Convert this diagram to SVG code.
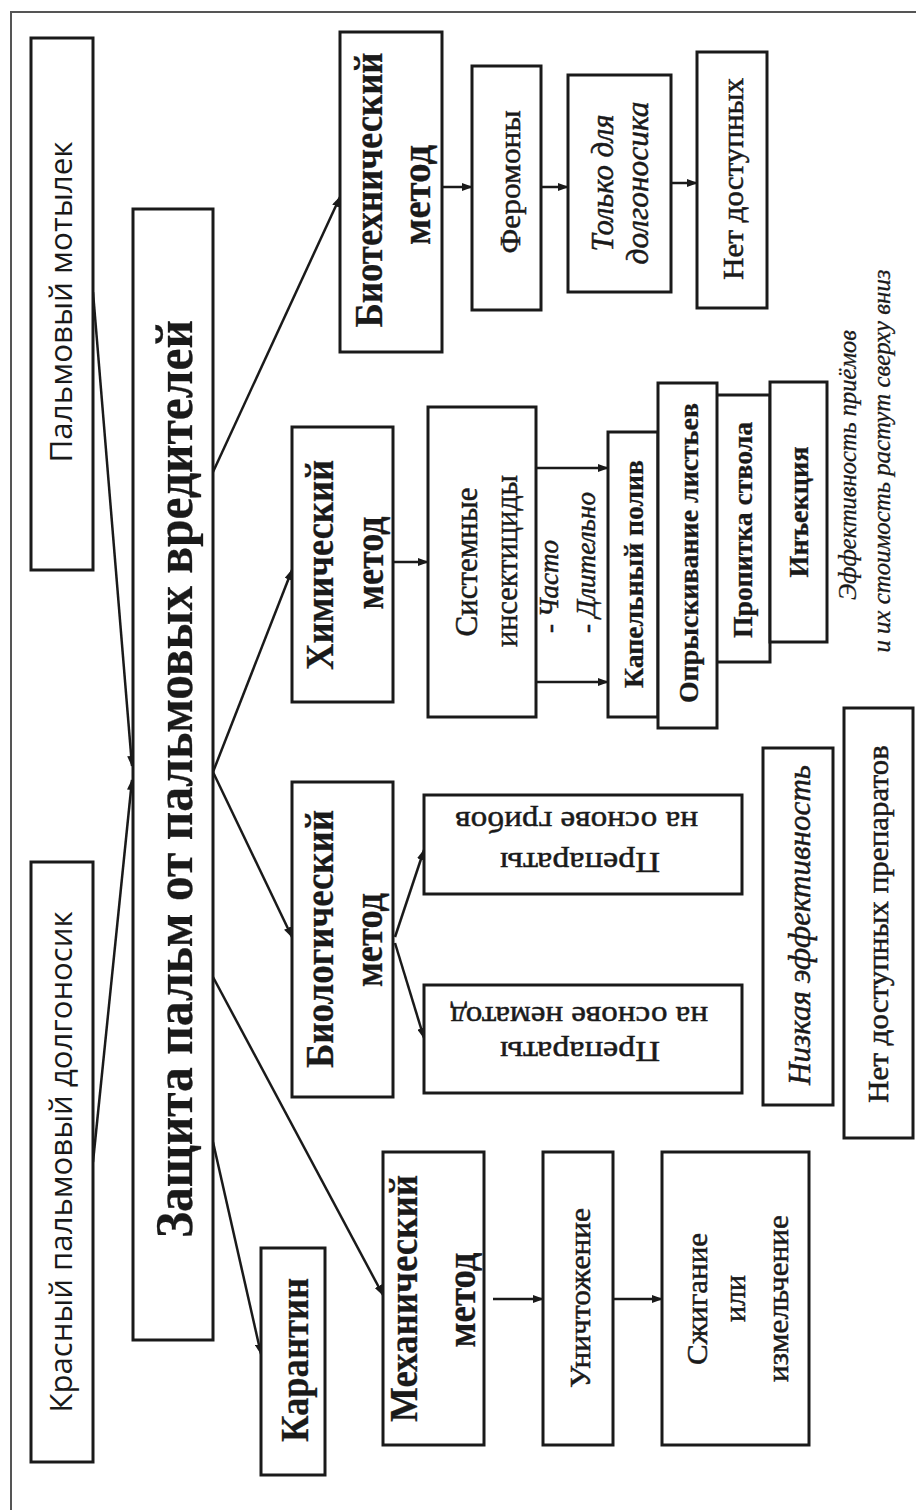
<svg xmlns="http://www.w3.org/2000/svg" width="916" height="1510" viewBox="0 0 916 1510">
<style>
.frame{fill:none;stroke:#555;stroke-width:2}
.box{fill:#fff;stroke:#1a1a1a;stroke-width:3}
.conn{stroke:#1a1a1a;stroke-width:2.5;fill:none;marker-end:url(#ah)}
text{fill:#1a1a1a}
.sans{font-family:"Open Sans","DejaVu Sans",sans-serif;font-size:31px}
.serif{font-family:"Liberation Serif","Times New Roman",serif;font-size:30px;stroke:#1a1a1a;stroke-width:0.5}
.b{font-weight:bold;stroke-width:0.3}
.i{font-style:italic}
.m{font-size:40px}
.s{font-size:28px}
</style>
<defs>
<marker id="ah" markerUnits="userSpaceOnUse" markerWidth="11" markerHeight="8" refX="10" refY="4" orient="auto">
<path d="M0,0 L11,4 L0,8 z" fill="#1a1a1a"/>
</marker>
</defs>
<rect class="frame" x="11" y="12" width="920" height="1510"/>

<g id="connectors">
<line class="conn" x1="93" y1="292" x2="132" y2="766"/>
<line class="conn" x1="93" y1="1162" x2="132" y2="780"/>
<line class="conn" x1="213" y1="472" x2="340" y2="197"/>
<line class="conn" x1="213" y1="772" x2="292" y2="570"/>
<line class="conn" x1="213" y1="772" x2="292" y2="937"/>
<line class="conn" x1="213" y1="977" x2="383" y2="1295"/>
<line class="conn" x1="213" y1="1142" x2="261" y2="1354"/>
<line class="conn" x1="395" y1="937" x2="424" y2="850"/>
<line class="conn" x1="395" y1="943" x2="424" y2="1038"/>
<line class="conn" x1="393" y1="562" x2="428" y2="562"/>
<line class="conn" x1="536" y1="468" x2="608" y2="468"/>
<line class="conn" x1="536" y1="682" x2="608" y2="682"/>
<line class="conn" x1="442" y1="187" x2="472" y2="187"/>
<line class="conn" x1="541" y1="187" x2="568" y2="187"/>
<line class="conn" x1="671" y1="183" x2="697" y2="183"/>
<line class="conn" x1="493" y1="1299" x2="543" y2="1299"/>
<line class="conn" x1="613" y1="1299" x2="662" y2="1299"/>
</g>

<g id="motylek">
<rect class="box" x="31" y="38" width="62" height="532"/>
<text class="sans" transform="translate(62,302) rotate(-90)" y="10" text-anchor="middle" textLength="321" lengthAdjust="spacingAndGlyphs">Пальмовый мотылек</text>
</g>
<g id="dolgonosik">
<rect class="box" x="31" y="862" width="62" height="600"/>
<text class="sans" transform="translate(62,1162) rotate(-90)" y="10" text-anchor="middle" textLength="501" lengthAdjust="spacingAndGlyphs">Красный пальмовый долгоносик</text>
</g>
<g id="main">
<rect class="box" x="133" y="209" width="80" height="1131"/>
<text class="serif b" style="font-size:52px" transform="translate(173,779) rotate(-90)" y="19" text-anchor="middle" textLength="918" lengthAdjust="spacingAndGlyphs">Защита пальм от пальмовых вредителей</text>
</g>

<g id="biotech">
<rect class="box" x="340" y="32" width="102" height="320"/>
<text class="serif b m" transform="translate(391,190) rotate(-90)" y="-9" text-anchor="middle" textLength="275" lengthAdjust="spacingAndGlyphs">Биотехнический</text>
<text class="serif b m" transform="translate(391,195) rotate(-90)" y="39" text-anchor="middle" textLength="100" lengthAdjust="spacingAndGlyphs">метод</text>
</g>
<g id="feromony">
<rect class="box" x="472" y="66" width="69" height="244"/>
<text class="serif" transform="translate(506.5,182) rotate(-90)" y="13.5" text-anchor="middle" textLength="143" lengthAdjust="spacingAndGlyphs">Феромоны</text>
</g>
<g id="tolko">
<rect class="box" x="568" y="75" width="103" height="217"/>
<text class="serif i" style="font-size:32px" transform="translate(619.5,183) rotate(-90)" y="-6.5" text-anchor="middle" textLength="137" lengthAdjust="spacingAndGlyphs">Только для</text>
<text class="serif i" style="font-size:32px" transform="translate(619.5,183) rotate(-90)" y="28.5" text-anchor="middle" textLength="163" lengthAdjust="spacingAndGlyphs">долгоносика</text>
</g>
<g id="net-dostupnyh">
<rect class="box" x="697" y="52" width="70" height="256"/>
<text class="serif" transform="translate(732,179) rotate(-90)" y="11" text-anchor="middle" textLength="202" lengthAdjust="spacingAndGlyphs">Нет доступных</text>
</g>

<g id="himich">
<rect class="box" x="292" y="427" width="101" height="275"/>
<text class="serif b m" transform="translate(342.5,565) rotate(-90)" y="-9.5" text-anchor="middle" textLength="210" lengthAdjust="spacingAndGlyphs">Химический</text>
<text class="serif b m" transform="translate(342.5,563) rotate(-90)" y="40.5" text-anchor="middle" textLength="93" lengthAdjust="spacingAndGlyphs">метод</text>
</g>
<g id="sistemnye">
<rect class="box" x="428" y="407" width="108" height="310"/>
<text class="serif" style="font-size:32px" transform="translate(481.5,562) rotate(-90)" y="-4.5" text-anchor="middle" textLength="149" lengthAdjust="spacingAndGlyphs">Системные</text>
<text class="serif" style="font-size:32px" transform="translate(481.5,561) rotate(-90)" y="35.5" text-anchor="middle" textLength="172" lengthAdjust="spacingAndGlyphs">инсектициды</text>
</g>
<g id="chasto-label">
<text class="serif i" style="font-size:27px" transform="translate(558,633) rotate(-90)" textLength="93" lengthAdjust="spacingAndGlyphs">- Часто</text>
<text class="serif i" style="font-size:27px" transform="translate(595,633) rotate(-90)" textLength="141" lengthAdjust="spacingAndGlyphs">- Длительно</text>
</g>
<g id="kapelny">
<rect class="box" x="608" y="432" width="50" height="285"/>
<text class="serif b s" transform="translate(633,574) rotate(-90)" y="10" text-anchor="middle" textLength="228" lengthAdjust="spacingAndGlyphs">Капельный полив</text>
</g>
<g id="propitka">
<rect class="box" x="713" y="395" width="57" height="267"/>
<text class="serif b s" transform="translate(741.5,530) rotate(-90)" y="10.5" text-anchor="middle" textLength="216" lengthAdjust="spacingAndGlyphs">Пропитка ствола</text>
</g>
<g id="opryskivanie">
<rect class="box" x="658" y="383" width="59" height="345"/>
<text class="serif b s" transform="translate(687.5,553) rotate(-90)" y="10.5" text-anchor="middle" textLength="300" lengthAdjust="spacingAndGlyphs">Опрыскивание листьев</text>
</g>
<g id="inekciya">
<rect class="box" x="770" y="382" width="57" height="260"/>
<text class="serif b s" transform="translate(798.5,512) rotate(-90)" y="9.5" text-anchor="middle" textLength="131" lengthAdjust="spacingAndGlyphs">Инъекция</text>
</g>
<g id="note">
<text class="serif i" style="font-size:26px;stroke-width:0.3" transform="translate(856,465) rotate(-90)" text-anchor="middle" textLength="270" lengthAdjust="spacingAndGlyphs">Эффективность приёмов</text>
<text class="serif i" style="font-size:26px;stroke-width:0.3" transform="translate(890,461) rotate(-90)" text-anchor="middle" textLength="383" lengthAdjust="spacingAndGlyphs">и их стоимость растут сверху вниз</text>
</g>

<g id="biolog">
<rect class="box" x="292" y="782" width="101" height="315"/>
<text class="serif b m" transform="translate(342.5,939) rotate(-90)" y="-9.5" text-anchor="middle" textLength="258" lengthAdjust="spacingAndGlyphs">Биологический</text>
<text class="serif b m" transform="translate(342.5,940) rotate(-90)" y="39.5" text-anchor="middle" textLength="94" lengthAdjust="spacingAndGlyphs">метод</text>
</g>
<g id="griby">
<rect class="box" x="424" y="795" width="318" height="99"/>
<text class="serif" transform="translate(583,844.5) rotate(180)" x="3" y="-8.5" text-anchor="middle" textLength="160" lengthAdjust="spacingAndGlyphs">Препараты</text>
<text class="serif" transform="translate(583,844.5) rotate(180)" x="6.5" y="32.5" text-anchor="middle" textLength="243" lengthAdjust="spacingAndGlyphs">на основе грибов</text>
</g>
<g id="nematody">
<rect class="box" x="424" y="985" width="318" height="108"/>
<text class="serif" transform="translate(583,1039) rotate(180)" x="3" y="-3" text-anchor="middle" textLength="160" lengthAdjust="spacingAndGlyphs">Препараты</text>
<text class="serif" transform="translate(583,1039) rotate(180)" x="4" y="32" text-anchor="middle" textLength="258" lengthAdjust="spacingAndGlyphs">на основе нематод</text>
</g>
<g id="nizkaya">
<rect class="box" x="763" y="748" width="70" height="357"/>
<text class="serif i" style="font-size:32px" transform="translate(798,925) rotate(-90)" y="12" text-anchor="middle" textLength="320" lengthAdjust="spacingAndGlyphs">Низкая эффективность</text>
</g>
<g id="net-preparatov">
<rect class="box" x="844" y="708" width="69" height="430"/>
<text class="serif" transform="translate(878.5,924) rotate(-90)" y="9.5" text-anchor="middle" textLength="358" lengthAdjust="spacingAndGlyphs">Нет доступных препаратов</text>
</g>

<g id="karantin">
<rect class="box" x="261" y="1248" width="64" height="227"/>
<text class="serif b m" transform="translate(293,1360) rotate(-90)" y="15" text-anchor="middle" textLength="164" lengthAdjust="spacingAndGlyphs">Карантин</text>
</g>
<g id="mehanich">
<rect class="box" x="383" y="1152" width="101" height="293"/>
<text class="serif b m" transform="translate(433.5,1298.5) rotate(-90)" y="-16.5" text-anchor="middle" textLength="247" lengthAdjust="spacingAndGlyphs">Механический</text>
<text class="serif b m" transform="translate(433.5,1300) rotate(-90)" y="41.5" text-anchor="middle" textLength="95" lengthAdjust="spacingAndGlyphs">метод</text>
</g>
<g id="unichtozhenie">
<rect class="box" x="543" y="1152" width="70" height="293"/>
<text class="serif" transform="translate(578,1298) rotate(-90)" y="12" text-anchor="middle" textLength="180" lengthAdjust="spacingAndGlyphs">Уничтожение</text>
</g>
<g id="szhiganie">
<rect class="box" x="662" y="1152" width="147" height="293"/>
<text class="serif" transform="translate(735.5,1299) rotate(-90)" y="-28.5" text-anchor="middle" textLength="132" lengthAdjust="spacingAndGlyphs">Сжигание</text>
<text class="serif" transform="translate(735.5,1298.5) rotate(-90)" y="9.5" text-anchor="middle" textLength="47" lengthAdjust="spacingAndGlyphs">или</text>
<text class="serif" transform="translate(735.5,1298.5) rotate(-90)" y="52.5" text-anchor="middle" textLength="167" lengthAdjust="spacingAndGlyphs">измельчение</text>
</g>
</svg>
